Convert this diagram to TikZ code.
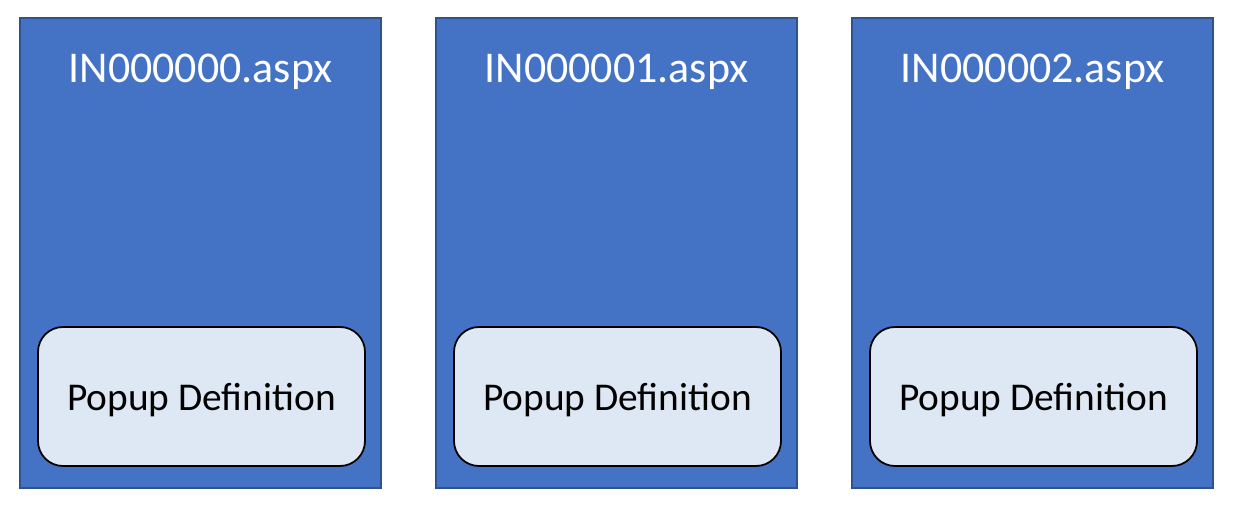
\documentclass[tikz,border=0pt]{standalone}
\usepackage{fontspec}
\setmainfont{Carlito}
\usepackage{xcolor}
\usepackage{tikz}
\usetikzlibrary{positioning}

\definecolor{pageblue}{HTML}{4472C4}
\definecolor{pageedge}{HTML}{2F528F}
\definecolor{popupfill}{HTML}{DEE7F4}

\begin{document}
\begin{tikzpicture}[
    page/.style={draw=pageedge,fill=pageblue,line width=0.6pt,minimum width=7.22cm,minimum height=9.4cm,inner sep=0pt},
    popup/.style={draw=black,fill=popupfill,line width=1pt,rounded corners=0.5cm,minimum width=6.54cm,minimum height=2.78cm,text depth=0pt,font=\fontsize{22.4}{26}\selectfont},
    title/.style={text=white,text depth=0pt,font=\fontsize{25}{30}\selectfont}]
  \useasboundingbox (0,0) rectangle (24.72,10.22);

  % Left
  \node[page] (page0) at (4.01,5.16) {};
  \node[title] (title0) at (4.01,8.86) {IN000000.aspx};
  \node[popup] (popup0) at (4.03,2.29) {Popup Definition};

  % Middle
  \node[page] (page1) at (12.33,5.16) {};
  \node[title] (title1) at (12.33,8.86) {IN000001.aspx};
  \node[popup] (popup1) at (12.35,2.29) {Popup Definition};

  % Right
  \node[page] (page2) at (20.65,5.16) {};
  \node[title] (title2) at (20.65,8.86) {IN000002.aspx};
  \node[popup] (popup2) at (20.67,2.29) {Popup Definition};
\end{tikzpicture}
\end{document}
